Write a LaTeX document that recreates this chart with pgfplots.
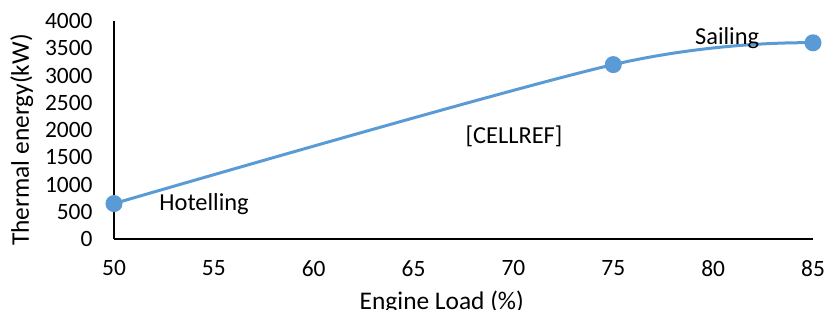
\documentclass[border=0pt]{standalone}
\usepackage{pgfplots}
\pgfplotsset{compat=1.18}
\usepackage{fontspec}
\setmainfont{Carlito}
\definecolor{xlblue}{HTML}{5B9BD5}
\begin{document}
\begin{tikzpicture}
\useasboundingbox (-114bp,-71bp) rectangle (713bp,239bp);
\begin{axis}[
  at={(0,0)}, anchor=origin,
  scale only axis, width=699bp, height=218bp,
  xmin=50, xmax=85, ymin=0, ymax=4000,
  xtick={50,55,...,85}, ytick={0,500,...,4000},
  axis lines=left, axis line style={-, black, line width=1.5bp},
  major tick length=0pt,
  tick label style={font=\fontsize{23.5}{27}\selectfont},
  /pgf/number format/assume math mode=true,
  /pgf/number format/1000 sep={},
  xticklabel style={yshift=-18bp},
  yticklabel style={xshift=-18bp},
  clip=false,
]
\addplot[xlblue, line width=3bp, smooth, tension=0.55, mark=*, mark size=7bp, mark options={fill=xlblue, draw=xlblue}]
  coordinates {(50,650) (75,3200) (85,3600)};
\node[font=\fontsize{24.5}{27}\selectfont, anchor=west] at (axis cs:52.1,642) {Hotelling};
\node[font=\fontsize{24.5}{27}\selectfont] at (axis cs:70.03,1890) {[CELLREF]};
\node[font=\fontsize{24.5}{27}\selectfont] at (axis cs:80.7,3688) {Sailing};
\node[font=\fontsize{25.5}{27}\selectfont, anchor=north, inner sep=0pt] at ([yshift=-52bp]rel axis cs:0.469,0) {Engine Load (\%)};
\node[font=\fontsize{25.5}{27}\selectfont, anchor=north, rotate=90, inner sep=0pt] at ([xshift=-104bp]rel axis cs:0,0.454) {Thermal energy(kW)};
\end{axis}
\end{tikzpicture}
\end{document}
